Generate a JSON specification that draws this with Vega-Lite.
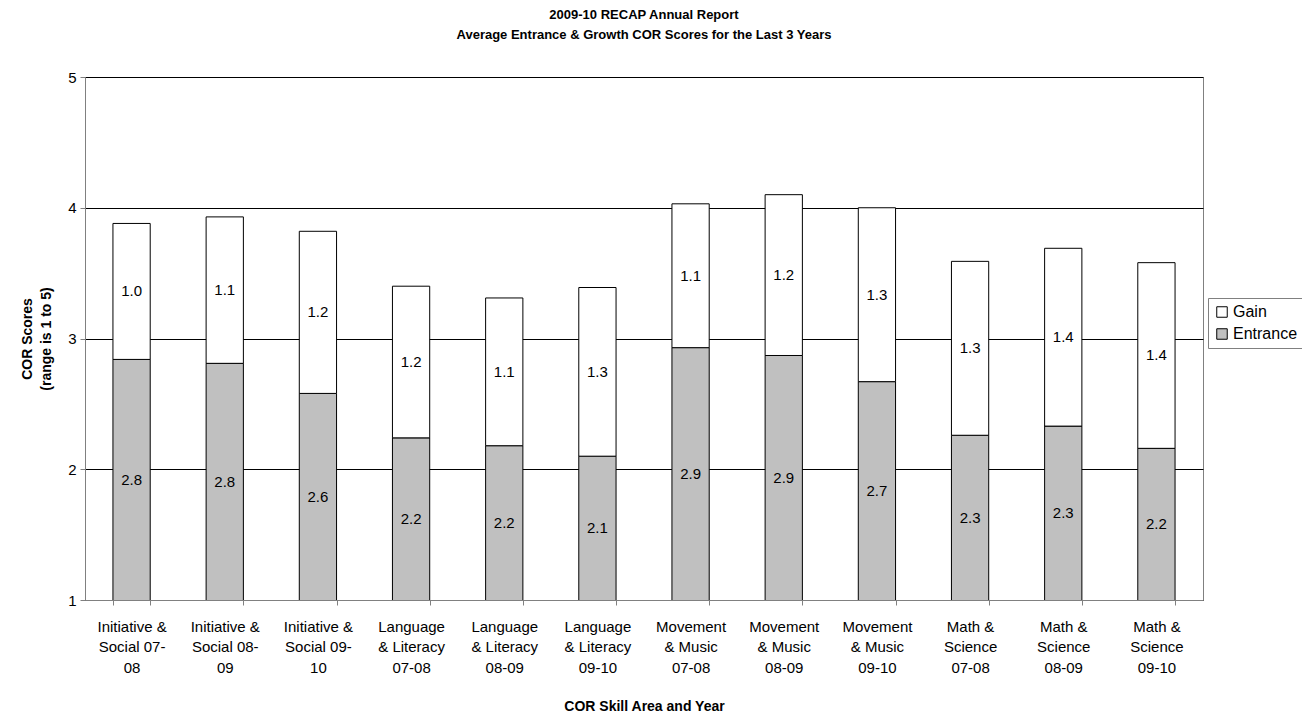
{
  "$schema": "https://vega.github.io/schema/vega-lite/v6.json",
  "autosize": {"type": "none"},
  "width": 1118,
  "height": 523,
  "padding": {"left": 85, "top": 77, "right": 99, "bottom": 119},
  "background": "white",
  "title": {
    "text": ["2009-10 RECAP Annual Report", "Average Entrance & Growth COR Scores for the Last 3 Years"],
    "font": "Liberation Sans",
    "fontSize": 13,
    "fontWeight": "bold",
    "lineHeight": 20,
    "color": "black",
    "offset": 28,
    "anchor": "middle"
  },
  "data": {
    "values": [
      {"cat": "Initiative &|Social 07-|08", "series": "Entrance", "value": 2.84},
      {"cat": "Initiative &|Social 07-|08", "series": "Gain", "value": 1.04},
      {"cat": "Initiative &|Social 08-|09", "series": "Entrance", "value": 2.81},
      {"cat": "Initiative &|Social 08-|09", "series": "Gain", "value": 1.12},
      {"cat": "Initiative &|Social 09-|10", "series": "Entrance", "value": 2.58},
      {"cat": "Initiative &|Social 09-|10", "series": "Gain", "value": 1.24},
      {"cat": "Language|& Literacy|07-08", "series": "Entrance", "value": 2.24},
      {"cat": "Language|& Literacy|07-08", "series": "Gain", "value": 1.16},
      {"cat": "Language|& Literacy|08-09", "series": "Entrance", "value": 2.18},
      {"cat": "Language|& Literacy|08-09", "series": "Gain", "value": 1.13},
      {"cat": "Language|& Literacy|09-10", "series": "Entrance", "value": 2.10},
      {"cat": "Language|& Literacy|09-10", "series": "Gain", "value": 1.29},
      {"cat": "Movement|& Music|07-08", "series": "Entrance", "value": 2.93},
      {"cat": "Movement|& Music|07-08", "series": "Gain", "value": 1.10},
      {"cat": "Movement|& Music|08-09", "series": "Entrance", "value": 2.87},
      {"cat": "Movement|& Music|08-09", "series": "Gain", "value": 1.23},
      {"cat": "Movement|& Music|09-10", "series": "Entrance", "value": 2.67},
      {"cat": "Movement|& Music|09-10", "series": "Gain", "value": 1.33},
      {"cat": "Math &|Science|07-08", "series": "Entrance", "value": 2.26},
      {"cat": "Math &|Science|07-08", "series": "Gain", "value": 1.33},
      {"cat": "Math &|Science|08-09", "series": "Entrance", "value": 2.33},
      {"cat": "Math &|Science|08-09", "series": "Gain", "value": 1.36},
      {"cat": "Math &|Science|09-10", "series": "Entrance", "value": 2.16},
      {"cat": "Math &|Science|09-10", "series": "Gain", "value": 1.42}
    ]
  },
  "transform": [
    {"stack": "value", "groupby": ["cat"], "sort": [{"field": "series", "order": "ascending"}], "as": ["v0", "v1"]},
    {"calculate": "(max(datum.v0, 1) + datum.v1) / 2", "as": "mid"}
  ],
  "encoding": {
    "x": {
      "field": "cat",
      "type": "nominal",
      "sort": null,
      "scale": {"paddingInner": 0.6, "paddingOuter": 0.3},
      "axis": {
        "title": "COR Skill Area and Year",
        "titleFont": "Liberation Sans",
        "titleFontSize": 14,
        "titleFontWeight": "bold",
        "titleColor": "black",
        "titlePadding": 24,
        "labelExpr": "isValid(datum.value) ? split(datum.value, '|') : ''",
        "labelAngle": 0,
        "labelFont": "Liberation Sans",
        "labelFontSize": 15,
        "labelLineHeight": 20.5,
        "labelColor": "black",
        "labelPadding": 14,
        "labelBaseline": "top",
        "tickBand": "extent",
        "tickSize": 5,
        "tickColor": "#808080",
        "domainColor": "#808080",
        "grid": false
      }
    }
  },
  "layer": [
    {
      "mark": {"type": "bar", "stroke": "black", "strokeWidth": 1, "clip": true},
      "encoding": {
        "y": {
          "field": "v0",
          "type": "quantitative",
          "scale": {"domain": [1, 5], "nice": false, "zero": false},
          "axis": {
            "title": ["COR Scores", "(range is 1 to 5)"],
            "titleFont": "Liberation Sans",
            "titleFontSize": 14,
            "titleFontWeight": "bold",
            "titleColor": "black",
            "titleLineHeight": 19,
            "titlePadding": 14,
            "values": [1, 2, 3, 4, 5],
            "format": "d",
            "labelFont": "Liberation Sans",
            "labelFontSize": 15,
            "labelColor": "black",
            "labelPadding": 4,
            "tickSize": 5,
            "tickColor": "#808080",
            "domainColor": "#808080",
            "grid": true,
            "gridColor": "black",
            "gridOpacity": 1
          }
        },
        "y2": {"field": "v1"},
        "fill": {
          "field": "series",
          "type": "nominal",
          "scale": {"domain": ["Gain", "Entrance"], "range": ["white", "#c0c0c0"]},
          "legend": {
            "title": null,
            "orient": "none",
            "legendX": 1123,
            "legendY": 221,
            "symbolType": "square",
            "symbolSize": 110,
            "symbolStrokeColor": "black",
            "symbolStrokeWidth": 1,
            "labelFont": "Liberation Sans",
            "labelFontSize": 16,
            "labelColor": "black",
            "labelOffset": 3,
            "rowPadding": 6,
            "padding": 6,
            "strokeColor": "#808080",
            "fillColor": "white"
          }
        }
      }
    },
    {
      "mark": {"type": "text", "font": "Liberation Sans", "fontSize": 15, "color": "black", "baseline": "middle"},
      "encoding": {
        "y": {"field": "mid", "type": "quantitative"},
        "text": {"field": "value", "type": "quantitative", "format": ".1f"}
      }
    }
  ],
  "config": {
    "view": {"stroke": "#808080"},
    "axis": {"domainWidth": 1}
  }
}
